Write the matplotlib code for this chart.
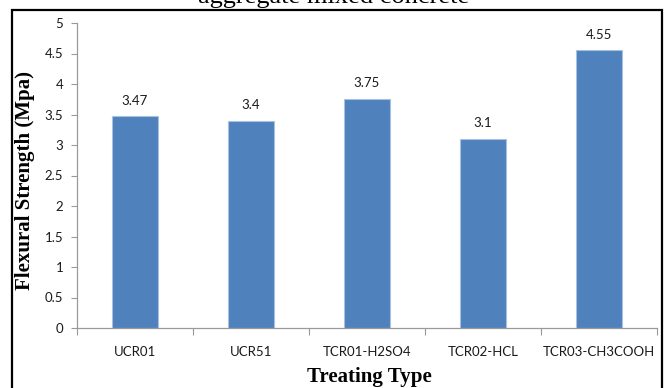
import numpy as np
import matplotlib.pyplot as plt
from matplotlib.patches import Rectangle

# Flexural strength per treating type
types = ["UCR01", "UCR51", "TCR01-H2SO4", "TCR02-HCL", "TCR03-CH3COOH"]
strength = [3.47, 3.4, 3.75, 3.1, 4.55]
yticks = [0, 0.5, 1, 1.5, 2, 2.5, 3, 3.5, 4, 4.5, 5]

fig = plt.figure(figsize=(6.69, 3.88), dpi=100)
ax = fig.add_axes([77 / 669, 60 / 388, 580 / 669, 305 / 388])

x = np.arange(len(types))
bars = ax.bar(x, strength, width=0.4, color="#4F81BD", edgecolor="#a9c1e0", linewidth=0.8)

for xi, v in zip(x, strength):
    ax.text(xi, v + 0.16, f"{v:g}", ha="center", va="bottom",
            fontsize=9.5, family="Lato", color="#1a1a1a")

ax.set_xlim(-0.5, len(types) - 0.5)
ax.set_ylim(0, 5)
ax.set_yticks(yticks)
ax.set_yticklabels([f"{t:g}" for t in yticks], family="Lato", fontsize=9.5, color="#1a1a1a")

# boundary ticks below the axis, labels centred under the bars
ax.set_xticks(np.arange(len(types) + 1) - 0.5)
ax.set_xticklabels([])
ax.set_xticks(x, minor=True)
ax.set_xticklabels(types, minor=True, family="Lato", fontsize=9.5, color="#1a1a1a")
ax.tick_params(axis="x", which="major", length=5, color="#999999")
ax.tick_params(axis="x", which="minor", length=0, pad=13)
ax.tick_params(axis="y", length=4, color="#999999", pad=6)

for s in ["top", "right"]:
    ax.spines[s].set_visible(False)
for s in ["left", "bottom"]:
    ax.spines[s].set_color("#9a9a9a")
    ax.spines[s].set_linewidth(0.9)

ax.set_ylabel("Flexural Strength (Mpa)", family="Liberation Serif",
              fontweight="bold", fontsize=15)
ax.yaxis.set_label_coords(-0.073, 0.485)
fig.text(369 / 669, 1 - 377 / 388, "Treating Type", family="Liberation Serif",
         fontweight="bold", fontsize=15, ha="center", va="center")

# caption line above the frame, cut off at the top
fig.text(334 / 669, 1 - 3.5 / 388, "aggregate mixed concrete", family="Liberation Serif",
         fontsize=19, ha="center", va="baseline")

fig.patches.append(Rectangle((12 / 669, -0.02), 650 / 669, 1 - 10 / 388 + 0.02,
                             transform=fig.transFigure, fill=False,
                             edgecolor="black", linewidth=1.6))

fig.savefig("out.png", dpi=100)
